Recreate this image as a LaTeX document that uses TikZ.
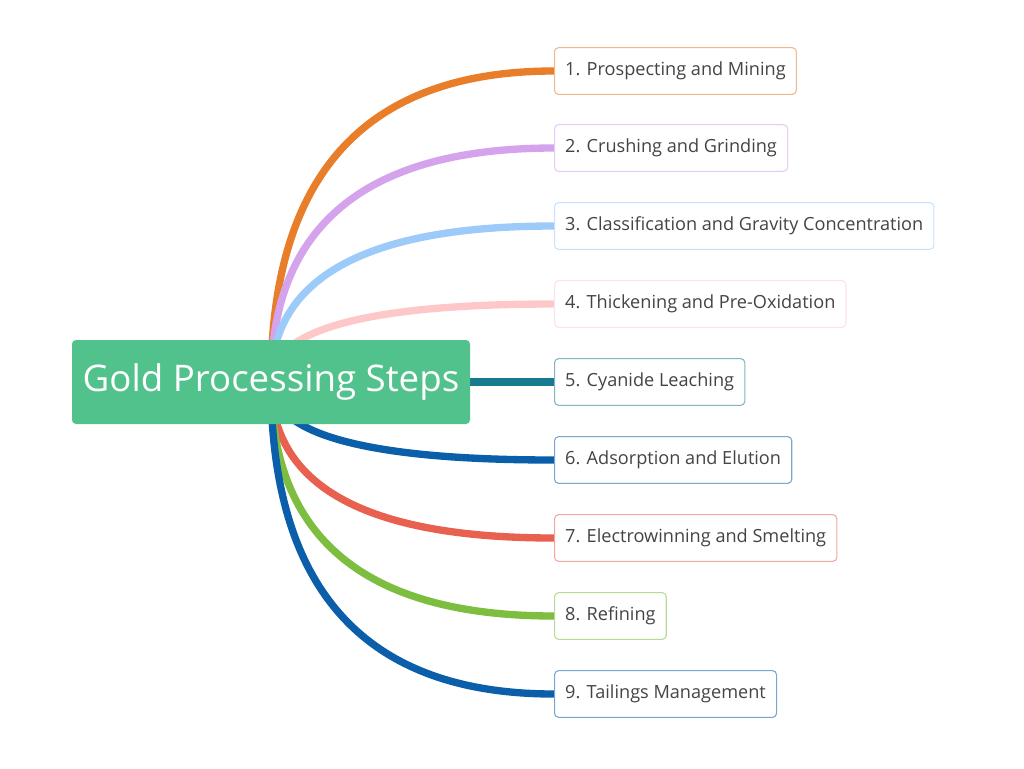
\documentclass[tikz,border=0pt]{standalone}
\usepackage{fontspec}
\setmainfont{Open Sans}
\usepackage{xcolor}
\usetikzlibrary{calc, backgrounds}
\definecolor{goldgreen}{HTML}{52C28C}
\definecolor{txtgray}{HTML}{444444}
\definecolor{brOrange}{HTML}{E87D2A}
\definecolor{brLilac}{HTML}{D4A3EC}
\definecolor{brSky}{HTML}{9CCBFA}
\definecolor{brPink}{HTML}{FFC8C8}
\definecolor{brTeal}{HTML}{187A90}
\definecolor{brBlue}{HTML}{0B5EAA}
\definecolor{brRed}{HTML}{E8604F}
\definecolor{brGreen}{HTML}{7DBD3F}
\tikzset{
	stepnode/.style={draw=#1!55, line width=0.8pt, rounded corners=3pt, fill=white,
		text=txtgray, anchor=west, minimum height=35pt, inner xsep=8pt,
		font=\fontsize{13.6}{16}\selectfont},
	branch/.style={draw=#1, line width=5.5pt},
}
% quadratic-like curve from the middle of the main box to a step
\newcommand{\branchto}[2]{%
	\draw [branch=#1] (gold.center)
		.. controls ($(gold.center)!2/3!(gold.center |- #2.west)$)
		and ($(#2.west)!2/3!(gold.center |- #2.west)$) .. (#2.west);%
}

\begin{document}
\begin{tikzpicture}[x=0.75pt, y=-0.75pt]
	\useasboundingbox (0,0) rectangle (1024,768);
	\node [fill=goldgreen, rounded corners=3pt, text=white, minimum width=298.5pt,
		minimum height=63pt, font=\fontsize{27.5}{32}\selectfont] (gold) at (271,382) {Gold Processing Steps};
	
	\node [stepnode=brOrange] (prospect) at (554,71) {1. Prospecting and Mining};
	\node [stepnode=brLilac] (crush) at (554,148) {2. Crushing and Grinding};
	\node [stepnode=brSky] (classify) at (554,226) {3. Classification and Gravity Concentration};
	\node [stepnode=brPink] (thicken) at (554,304) {4. Thickening and Pre-Oxidation};
	\node [stepnode=brTeal] (leach) at (554,382) {5. Cyanide Leaching};
	\node [stepnode=brBlue] (adsorb) at (554,460) {6. Adsorption and Elution};
	\node [stepnode=brRed] (smelt) at (554,538) {7. Electrowinning and Smelting};
	\node [stepnode=brGreen] (refine) at (554,616) {8. Refining};
	\node [stepnode=brBlue] (tailings) at (554,694) {9. Tailings Management};
	
	\begin{scope}[on background layer]
		\branchto{brOrange}{prospect}
		\branchto{brLilac}{crush}
		\branchto{brSky}{classify}
		\branchto{brPink}{thicken}
		\draw [branch=brTeal] (gold.center) -- (leach.west);
		\branchto{brBlue}{adsorb}
		\branchto{brRed}{smelt}
		\branchto{brGreen}{refine}
		\branchto{brBlue}{tailings}
	\end{scope}
\end{tikzpicture}
\end{document}
